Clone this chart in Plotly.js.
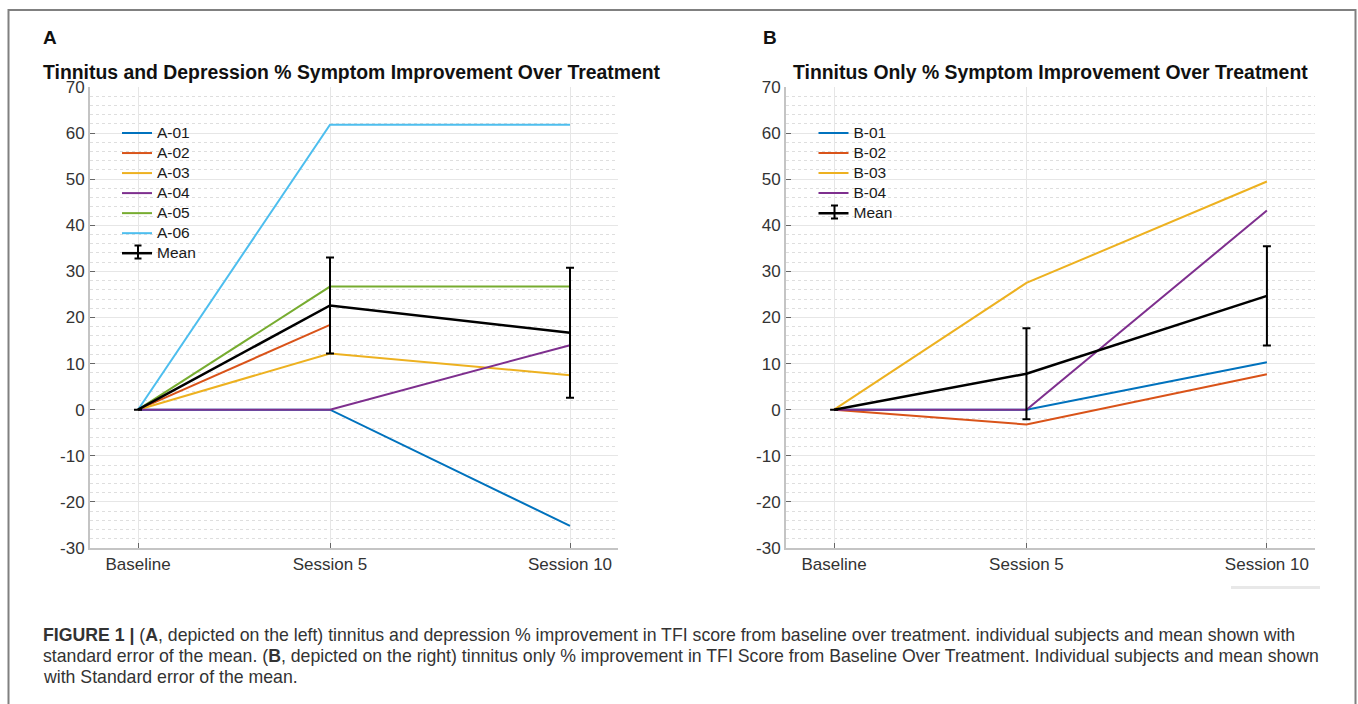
<!DOCTYPE html>
<html>
<head>
<meta charset="utf-8">
<script src="https://cdn.plot.ly/plotly-3.0.1.min.js"></script>
<style>html,body{margin:0;padding:0;background:#fff;}#chart{width:1358px;height:704px;}</style>
</head>
<body>
<div id="chart"></div>
<script>
// ---- data ----
const sessions = [1, 5, 10];
const sessionLabels = ["Baseline", "Session 5", "Session 10"];
const yTicks = [-30, -20, -10, 0, 10, 20, 30, 40, 50, 60, 70];
const yTickLabels = ["-30", "-20", "-10", "0", "10", "20", "30", "40", "50", "60", "70"];

const namesA = ["A-01", "A-02", "A-03", "A-04", "A-05", "A-06"];
const a01 = [0, 0, -25.2];
const a02 = [0, 18.4, null];
const a03 = [0, 12.2, 7.5];
const a04 = [0, 0, 14.0];
const a05 = [0, 26.7, 26.7];
const a06 = [0, 61.8, 61.8];
const meanA = [0, 22.6, 16.7];
const semA = [0, 10.4, 14.1];

const namesB = ["B-01", "B-02", "B-03", "B-04"];
const b01 = [0, 0, 10.3];
const b02 = [0, -3.2, 7.7];
const b03 = [0, 27.5, 49.5];
const b04 = [0, 0, 43.2];
const meanB = [0, 7.8, 24.7];
const semB = [0, 9.85, 10.75];

const colors = ["#0072BD", "#D95319", "#EDB120", "#7E2F8E", "#77AC30", "#4DBEEE"];

const legName = s => '<span style="font-size:15.5px">' + s + '</span>';

// ---- traces ----
const traces = [];
[a01, a02, a03, a04, a05, a06].forEach((v, i) => {
  traces.push({x: sessions, y: v, type: "scatter", mode: "lines", name: legName(namesA[i]),
    line: {color: colors[i], width: 2}, xaxis: "x", yaxis: "y", legend: "legend", connectgaps: false});
});
traces.push({x: sessions, y: meanA, type: "scatter", mode: "lines", name: legName("Mean"),
  line: {color: "#000000", width: 2.5}, xaxis: "x", yaxis: "y", legend: "legend",
  error_y: {type: "data", array: semA, visible: true, color: "#000000", thickness: 2, width: 4}});
[b01, b02, b03, b04].forEach((v, i) => {
  traces.push({x: sessions, y: v, type: "scatter", mode: "lines", name: legName(namesB[i]),
    line: {color: colors[i], width: 2}, xaxis: "x2", yaxis: "y2", legend: "legend2"});
});
traces.push({x: sessions, y: meanB, type: "scatter", mode: "lines", name: legName("Mean"),
  line: {color: "#000000", width: 2.5}, xaxis: "x2", yaxis: "y2", legend: "legend2",
  error_y: {type: "data", array: semB, visible: true, color: "#000000", thickness: 2, width: 4}});

const W = 1358, H = 704;
const px = v => v / W;
const py = v => 1 - v / H;

const FAM = "Liberation Sans, Arial, sans-serif";
const tickFont = {family: FAM, size: 17, color: "#333333"};
function xax(domain, anchor) {
  return {domain: domain, anchor: anchor, range: [0, 11], tickmode: "array", tickvals: sessions,
    ticktext: sessionLabels, ticks: "inside", ticklen: 5, tickcolor: "#666666", tickwidth: 1,
    showgrid: true, gridcolor: "#e6e6e6", gridwidth: 1, zeroline: false,
    showline: true, linecolor: "#c4c4c4", linewidth: 2, tickfont: tickFont, fixedrange: true};
}
function yax(anchor) {
  return {domain: [py(548), py(87)], anchor: anchor, range: [-30, 70], tickmode: "array", tickvals: yTicks,
    ticktext: yTickLabels,
    ticks: "inside", ticklen: 5, tickcolor: "#666666", tickwidth: 1,
    showgrid: true, gridcolor: "#e6e6e6", gridwidth: 1, zeroline: false,
    showline: true, linecolor: "#c4c4c4", linewidth: 2, tickfont: tickFont,
    minor: {dtick: 2, tick0: 0, showgrid: true, gridcolor: "#dedede", griddash: "dot", gridwidth: 1, ticks: ""},
    fixedrange: true};
}

const legFont = {family: FAM, size: 13.1, color: "#1a1a1a"};
const capFont = {family: FAM, size: 17.7, color: "#333333"};
const titleFont = {family: FAM, size: 19.4, color: "#111111"};

// error-bar glyph drawn on the "Mean" legend icons
function ibeam(cx, cy, h) {
  const s = {type: "line", xref: "paper", yref: "paper", line: {color: "#000000", width: 2}};
  return [
    Object.assign({}, s, {x0: px(cx), x1: px(cx), y0: py(cy - h), y1: py(cy + h)}),
    Object.assign({}, s, {x0: px(cx - 3.5), x1: px(cx + 3.5), y0: py(cy - h), y1: py(cy - h)}),
    Object.assign({}, s, {x0: px(cx - 3.5), x1: px(cx + 3.5), y0: py(cy + h), y1: py(cy + h)})
  ];
}

const layout = {
  width: W, height: H,
  margin: {l: 0, r: 0, t: 0, b: 0},
  paper_bgcolor: "#ffffff", plot_bgcolor: "#ffffff",
  showlegend: true,
  xaxis: xax([px(90), px(618)], "y"),
  yaxis: yax("x"),
  xaxis2: xax([px(786), px(1315)], "y2"),
  yaxis2: yax("x2"),
  legend: {x: px(117), y: py(118), xanchor: "left", yanchor: "top", bgcolor: "rgba(0,0,0,0)",
    borderwidth: 0, font: legFont, tracegroupgap: 0, itemwidth: 30},
  legend2: {x: px(813.5), y: py(118), xanchor: "left", yanchor: "top", bgcolor: "rgba(0,0,0,0)",
    borderwidth: 0, font: legFont, tracegroupgap: 0, itemwidth: 30},
  shapes: [
    {type: "rect", xref: "paper", yref: "paper", x0: px(8.5), x1: px(1355.5), y0: -0.05, y1: py(10),
      line: {color: "#808080", width: 2}, fillcolor: "rgba(0,0,0,0)"},
    {type: "line", xref: "paper", yref: "paper", x0: px(1231), x1: px(1320), y0: py(587.5), y1: py(587.5),
      line: {color: "#e8e8e8", width: 3}}
  ].concat(ibeam(138, 252, 6.5), ibeam(834.5, 212, 6.5)),
  annotations: [
    {text: "<b>A</b>", xref: "paper", yref: "paper", x: px(41), y: py(38), xanchor: "left", yanchor: "middle",
      showarrow: false, font: {family: FAM, size: 19, color: "#111111"}},
    {text: "<b>B</b>", xref: "paper", yref: "paper", x: px(761), y: py(38), xanchor: "left", yanchor: "middle",
      showarrow: false, font: {family: FAM, size: 19, color: "#111111"}},
    {text: "<b>Tinnitus and Depression % Symptom Improvement Over Treatment</b>", xref: "paper", yref: "paper",
      x: px(41), y: py(72), xanchor: "left", yanchor: "middle", showarrow: false, font: titleFont},
    {text: "<b>Tinnitus Only % Symptom Improvement Over Treatment</b>", xref: "paper", yref: "paper",
      x: px(791), y: py(72), xanchor: "left", yanchor: "middle", showarrow: false, font: titleFont},
    {text: "<b>FIGURE 1 |</b> (<b>A</b>, depicted on the left) tinnitus and depression % improvement in TFI score from baseline over treatment. individual subjects and mean shown with",
      xref: "paper", yref: "paper", x: px(41), y: py(635), xanchor: "left", yanchor: "middle", showarrow: false, font: capFont},
    {text: "standard error of the mean. (<b>B</b>, depicted on the right) tinnitus only % improvement in TFI Score from Baseline Over Treatment. Individual subjects and mean shown",
      xref: "paper", yref: "paper", x: px(41), y: py(656), xanchor: "left", yanchor: "middle", showarrow: false, font: capFont},
    {text: "with Standard error of the mean.",
      xref: "paper", yref: "paper", x: px(41), y: py(677), xanchor: "left", yanchor: "middle", showarrow: false, font: capFont}
  ]
};

Plotly.newPlot("chart", traces, layout, {displayModeBar: false, staticPlot: true});
</script>
</body>
</html>
